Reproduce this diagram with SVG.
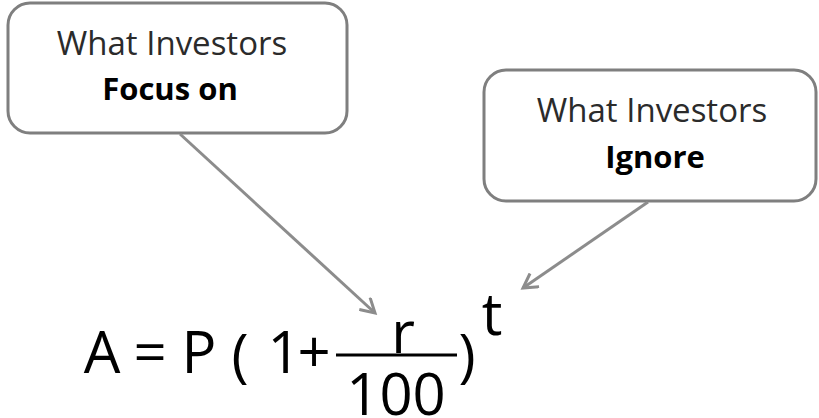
<svg xmlns="http://www.w3.org/2000/svg" width="819" height="418" viewBox="0 0 819 418">
<style>
.box{fill:#fff;stroke:#7f7f7f;stroke-width:3}
.lbl{font-family:"Open Sans",sans-serif;font-size:33px;fill:#2b2b2b;text-anchor:middle}
.b{font-weight:bold;fill:#000;font-size:31px}
.f{font-family:"Open Sans",sans-serif;fill:#000;text-anchor:middle;font-size:58px}
.c{stroke:#8c8c8c;stroke-width:3;fill:none}
</style>
<defs>
<marker id="ah" markerWidth="18" markerHeight="18" refX="15" refY="9" orient="auto" markerUnits="userSpaceOnUse" viewBox="0 0 18 18">
<path d="M1,1 L15,9 L1,17" fill="none" stroke="#8c8c8c" stroke-width="3"/>
</marker>
</defs>
<g id="node-focus">
<rect class="box" x="8" y="3" width="339" height="130" rx="22"/>
<text class="lbl" x="172" y="55">What Investors</text>
<text class="lbl b" x="170" y="100">Focus on</text>
</g>
<g id="node-ignore">
<rect class="box" x="484" y="70" width="332" height="131" rx="22"/>
<text class="lbl" x="652" y="122">What Investors</text>
<text class="lbl b" x="655" y="168">Ignore</text>
</g>
<g id="connectors">
<line class="c" x1="180" y1="134" x2="375" y2="313" marker-end="url(#ah)"/>
<line class="c" x1="648" y1="202" x2="523" y2="288" marker-end="url(#ah)"/>
</g>
<g id="formula">
<text class="f" x="102" y="373">A</text>
<text class="f" x="150" y="373">=</text>
<text class="f" x="199" y="373">P</text>
<text class="f" x="240" y="376" font-size="68">(</text>
<text class="f" x="284" y="373">1</text>
<text class="f" x="314" y="373">+</text>
<line x1="336" y1="355" x2="457" y2="355" stroke="#000" stroke-width="3"/>
<text class="f" x="403" y="353">r</text>
<text class="f" x="396" y="415" font-size="52">100</text>
<text class="f" x="467" y="376" font-size="68">)</text>
<text class="f" x="492" y="335" font-size="52">t</text>
</g>
</svg>
